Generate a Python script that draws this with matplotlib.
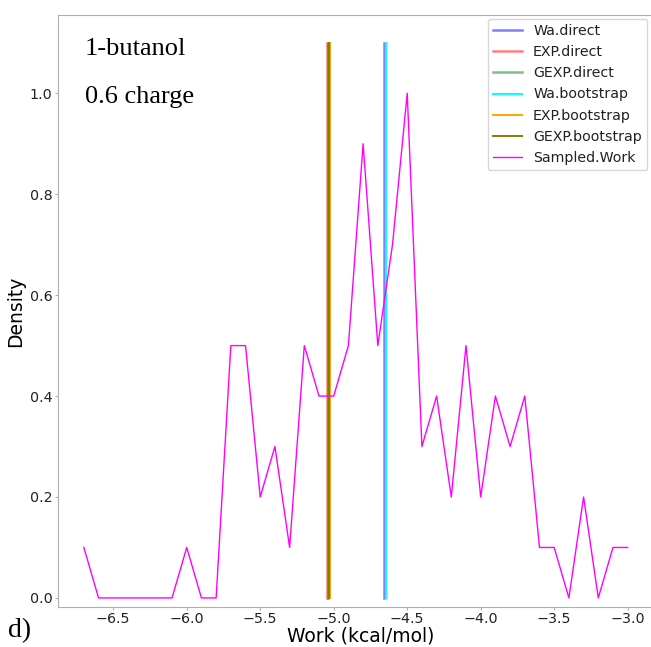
import matplotlib
matplotlib.use("Agg")
import matplotlib.pyplot as plt
import numpy as np

# Sampled work histogram (density) values
work_x = [-6.7, -6.6, -6.5, -6.4, -6.3, -6.2, -6.1, -6.0, -5.9, -5.8,
          -5.7, -5.6, -5.5, -5.4, -5.3, -5.2, -5.1, -5.0, -4.9, -4.8,
          -4.7, -4.6, -4.5, -4.4, -4.3, -4.2, -4.1, -4.0, -3.9, -3.8,
          -3.7, -3.6, -3.5, -3.4, -3.3, -3.2, -3.1, -3.0]
work_density = [0.1, 0.0, 0.0, 0.0, 0.0, 0.0, 0.0, 0.1, 0.0, 0.0,
                0.5, 0.5, 0.2, 0.3, 0.1, 0.5, 0.4, 0.4, 0.5, 0.9,
                0.5, 0.7, 1.0, 0.3, 0.4, 0.2, 0.5, 0.2, 0.4, 0.3,
                0.4, 0.1, 0.1, 0.0, 0.2, 0.0, 0.1, 0.1]

# Estimator values (vertical lines)
estimator_names = ["Wa.direct", "EXP.direct", "GEXP.direct",
                   "Wa.bootstrap", "EXP.bootstrap", "GEXP.bootstrap"]
estimator_values = [-4.657, -5.045, -5.041, -4.644, -5.024, -5.034]
estimator_colors = ["blue", "red", "green", "cyan", "orange", "olive"]
estimator_alpha = [0.5, 0.5, 0.5, 1.0, 1.0, 1.0]
estimator_lw = [1.8, 1.8, 1.8, 1.4, 1.4, 1.4]
line_top = 1.1

fig = plt.figure(figsize=(6.51, 6.47), dpi=100)
ax = fig.add_axes([0.0886, 0.0618, 0.93, 0.915])

for name, val, col, a, lw in zip(estimator_names, estimator_values,
                                 estimator_colors, estimator_alpha, estimator_lw):
    ax.plot([val, val], [0, line_top], color=col, alpha=a, lw=lw, label=name)

ax.plot(work_x, work_density, color="magenta", lw=1.0, label="Sampled.Work")

ax.set_xlim(-6.878, -2.759)
ax.set_ylim(-0.018, 1.155)
ax.set_xticks([-6.5, -6.0, -5.5, -5.0, -4.5, -4.0, -3.5, -3.0])
ax.set_yticks([0.0, 0.2, 0.4, 0.6, 0.8, 1.0])

for s in ax.spines.values():
    s.set_color("#b0b0b0")
ax.tick_params(colors="#b0b0b0", labelcolor="#222222", labelsize=10.3,
               length=2.0, pad=1.8)

ax.set_xlabel("Work (kcal/mol)", fontsize=13.5, labelpad=0.5)
ax.set_ylabel("Density", fontsize=13.5, labelpad=3.5)

leg = ax.legend(loc="upper right", fontsize=10.2, handlelength=2.0,
                borderpad=0.4, labelspacing=0.5, borderaxespad=0.25,
                bbox_to_anchor=(1.0, 0.9768),
                bbox_transform=fig.transFigure)
for t in leg.get_texts():
    t.set_color("#222222")

fig.text(0.13, 0.925, "1-butanol", family="Liberation Serif", fontsize=19,
         ha="left", va="center")
fig.text(0.13, 0.850, "0.6 charge", family="Liberation Serif", fontsize=19,
         ha="left", va="center")
fig.text(0.012, 0.026, "d)", family="Liberation Serif", fontsize=20,
         ha="left", va="center")

fig.savefig("out.png", dpi=100)
